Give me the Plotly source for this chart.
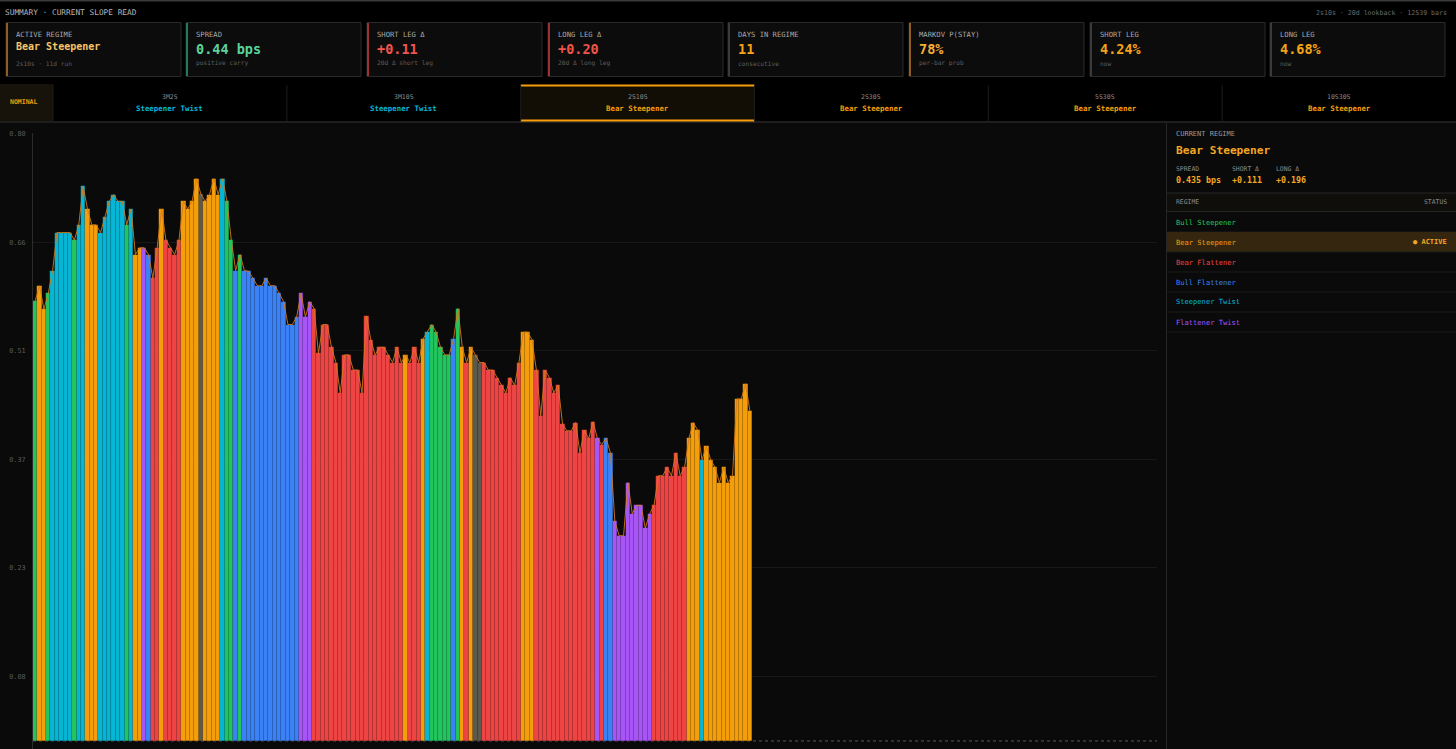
import plotly.graph_objects as go

W, H = 1456, 749

# ---------------- data ----------------
values = [
    0.579, 0.599, 0.568, 0.589, 0.619, 0.669, 0.669, 0.669, 0.669, 0.659,
    0.679, 0.730, 0.700, 0.679, 0.679, 0.669, 0.690, 0.710, 0.719, 0.710,
    0.710, 0.679, 0.700, 0.640, 0.649, 0.649, 0.640, 0.609, 0.649, 0.700,
    0.659, 0.649, 0.640, 0.659, 0.710, 0.700, 0.710, 0.740, 0.720, 0.710,
    0.719, 0.740, 0.719, 0.740, 0.710, 0.659, 0.619, 0.640, 0.619, 0.618,
    0.609, 0.599, 0.599, 0.609, 0.599, 0.599, 0.589, 0.578, 0.548, 0.548,
    0.558, 0.589, 0.558, 0.578, 0.569, 0.510, 0.548, 0.548, 0.518, 0.498,
    0.458, 0.508, 0.508, 0.488, 0.488, 0.458, 0.559, 0.528, 0.508, 0.518,
    0.518, 0.508, 0.498, 0.518, 0.498, 0.508, 0.498, 0.518, 0.498, 0.529,
    0.538, 0.548, 0.538, 0.518, 0.508, 0.508, 0.529, 0.569, 0.518, 0.498,
    0.518, 0.508, 0.498, 0.498, 0.488, 0.488, 0.478, 0.468, 0.458, 0.478,
    0.468, 0.498, 0.538, 0.538, 0.528, 0.488, 0.428, 0.488, 0.478, 0.458,
    0.468, 0.417, 0.408, 0.408, 0.419, 0.379, 0.409, 0.398, 0.420, 0.398,
    0.390, 0.398, 0.379, 0.289, 0.270, 0.270, 0.340, 0.299, 0.310, 0.310,
    0.280, 0.299, 0.310, 0.349, 0.349, 0.360, 0.349, 0.379, 0.349, 0.360,
    0.398, 0.419, 0.409, 0.370, 0.388, 0.370, 0.360, 0.340, 0.360, 0.340,
    0.349, 0.450, 0.450, 0.470, 0.434,
]

# G bull steepener, O bear steepener, R bear flattener, B bull flattener,
# C steepener twist, P flattener twist, N neutral
regimes = list(
    "GOOGCCCCCG"
    "CCOOOCCCCC"
    "CGCOOPBRRO"
    "RRRROOOONO"
    "OOOCGGBGBB"
    "BBBBBBBBBB"
    "BPPPRRRRRR"
    "RRRRRRRRRR"
    "RRRRRORRRO"
    "CGGGGGBGOR"
    "ONNRRRRRRR"
    "RROOORRRRR"
    "RRRRRRRRRP"
    "RBBPPPPPPP"
    "PPRRRRRRRR"
    "OOOCOOOOOO"
    "OOOOO"
)

regime_colors = {
    "G": "#22c55e",
    "O": "#f59e0b",
    "R": "#ef4444",
    "B": "#3b82f6",
    "C": "#06b6d4",
    "P": "#a855f7",
    "N": "#5c594e",
}

y_tick_vals = [0.0848, 0.2276, 0.3704, 0.5132, 0.6560, 0.7988]
y_tick_text = ["0.08", "0.23", "0.37", "0.51", "0.66", "0.80"]

header_title = "SUMMARY · CURRENT SLOPE READ"
header_meta = "2s10s · 20d lookback · 12539 bars"

card_labels = ["ACTIVE REGIME", "SPREAD", "SHORT LEG Δ", "LONG LEG Δ",
               "DAYS IN REGIME", "MARKOV P(STAY)", "SHORT LEG", "LONG LEG"]
card_values = ["Bear Steepener", "0.44 bps", "+0.11", "+0.20",
               "11", "78%", "4.24%", "4.68%"]
card_subs = ["2s10s · 11d run", "positive carry", "20d Δ short leg", "20d Δ long leg",
             "consecutive", "per-bar prob", "now", "now"]

tab_pairs = ["3M2S", "3M10S", "2S10S", "2S30S", "5S30S", "10S30S"]
tab_regimes = ["Steepener Twist", "Steepener Twist", "Bear Steepener",
               "Bear Steepener", "Bear Steepener", "Bear Steepener"]

panel_regime = "Bear Steepener"
panel_stat_labels = ["SPREAD", "SHORT Δ", "LONG Δ"]
panel_stat_values = ["0.435 bps", "+0.111", "+0.196"]

legend_names = ["Bull Steepener", "Bear Steepener", "Bear Flattener",
                "Bull Flattener", "Steepener Twist", "Flattener Twist"]
legend_codes = ["G", "O", "R", "B", "C", "P"]
active_regime = "Bear Steepener"

# ---------------- styling helpers ----------------
FONT = "DejaVu Sans Mono, Liberation Mono, monospace"
name_color = {n: regime_colors[c] for n, c in zip(legend_names, legend_codes)}


def px(x):
    return x / W


def py(y):
    return 1 - y / H


shapes = []
annotations = []


def rect(x0, y0, x1, y1, fill=None, line=None, lw=0, layer="below"):
    shapes.append(dict(type="rect", xref="paper", yref="paper",
                       x0=px(x0), x1=px(x1), y0=py(y1), y1=py(y0),
                       fillcolor=fill or "rgba(0,0,0,0)",
                       line=dict(color=line or "rgba(0,0,0,0)", width=lw),
                       layer=layer))


def hline(x0, x1, y, color, lw=1, dash="solid", layer="below"):
    shapes.append(dict(type="line", xref="paper", yref="paper",
                       x0=px(x0), x1=px(x1), y0=py(y), y1=py(y),
                       line=dict(color=color, width=lw, dash=dash), layer=layer))


def vline(x, y0, y1, color, lw=1, layer="below"):
    shapes.append(dict(type="line", xref="paper", yref="paper",
                       x0=px(x), x1=px(x), y0=py(y0), y1=py(y1),
                       line=dict(color=color, width=lw), layer=layer))


def text(x, y, s, size, color, anchor="left", bold=False):
    shift = {"left": -2, "right": 2, "center": 0}[anchor]
    annotations.append(dict(xref="paper", yref="paper", x=px(x), y=py(y),
                            text=s, showarrow=False, xanchor=anchor, yanchor="middle",
                            xshift=shift,
                            font=dict(family=FONT, size=size, color=color,
                                      weight="bold" if bold else "normal")))


# ---------------- backgrounds ----------------
rect(0, 123, 1166, H, fill="#0a0a0a")
rect(1166, 123, W, H, fill="#0a0a0a")
vline(1166.5, 122, H, "#262626")
hline(0, W, 0.8, "#3a3a3a", lw=1.5)
hline(0, W, 122, "#1e1e1e", lw=2)

# ---------------- header ----------------
text(5, 13, header_title, 7.8, "#b5b5b5")
text(1447, 13, header_meta, 6.6, "#6a6a6a", anchor="right")

card_x = [6, 186, 367, 548, 728, 909, 1090, 1270]
card_w = 175
accent = ["#8d5d22", "#237a5a", "#9a3232", "#9a3232",
          "#3a3a3a", "#8d5d22", "#3a3a3a", "#3a3a3a"]
value_col = ["#f8c46a", "#5bd39a", "#f1554a", "#f1554a",
             "#f5a416", "#f6ad3a", "#f5a416", "#f5a416"]
for i in range(8):
    x0 = card_x[i]
    rect(x0, 22.5, x0 + card_w, 76.5, fill="#0c0c0c", line="#2a2a2a", lw=1)
    vline(x0 + 1, 23, 76, accent[i], lw=2)
    text(x0 + 10, 34.5, card_labels[i], 7.2, "#a8a8a8")
    if i == 0:
        text(x0 + 10, 47, card_values[i], 10, value_col[i], bold=True)
    else:
        text(x0 + 10, 49, card_values[i], 13.5, value_col[i], bold=True)
    text(x0 + 10, 63, card_subs[i], 6.2, "#5e5e5e")

# ---------------- tabs ----------------
rect(0, 84, 53, 121, fill="#17130a")
text(23, 102.5, "NOMINAL", 6.5, "#f59e0b", anchor="center", bold=True)
tab_w = (W - 53) / 6
for i in range(6):
    x0 = 53 + i * tab_w
    if tab_pairs[i] == "2S10S":
        rect(x0, 85, x0 + tab_w, 121, fill="#120d05")
        hline(x0, x0 + tab_w, 85.5, "#f59e0b", lw=2)
        hline(x0, x0 + tab_w, 120.5, "#f59e0b", lw=2)
    vline(x0, 85, 121, "#1c1c1c")
    cx = x0 + tab_w / 2
    text(cx, 96.5, tab_pairs[i], 6.5, "#8a8a8a", anchor="center")
    text(cx, 108.5, tab_regimes[i], 7.4, name_color[tab_regimes[i]], anchor="center", bold=True)

# ---------------- right panel ----------------
text(1176, 134, "CURRENT REGIME", 7, "#9a9a9a")
text(1176, 151, panel_regime, 11.2, "#f5a623", bold=True)
stat_x = [1176, 1232, 1276]
for sx, lab, val in zip(stat_x, panel_stat_labels, panel_stat_values):
    text(sx, 168.5, lab, 6.4, "#8a8a8a")
    text(sx, 179.5, val, 8.3, "#f5a623", bold=True)
rect(1167, 193, W, 211.5, fill="#0f0e0b")
hline(1167, W, 193, "#262626")
hline(1167, W, 211.5, "#262626")
text(1176, 202, "REGIME", 6.4, "#8a8a8a")
text(1447, 202, "STATUS", 6.4, "#8a8a8a", anchor="right")
for k, name in enumerate(legend_names):
    y0 = 212 + 20 * k
    if name == active_regime:
        rect(1167, y0, W, y0 + 20, fill="#35270f")
        text(1447, y0 + 10, "● ACTIVE", 7, "#f5a623", anchor="right", bold=True)
    hline(1167, W, y0 + 20, "#1b1b1b")
    text(1176, y0 + 10, name, 7.1, name_color[name])

# ---------------- chart ----------------
n = len(values)
idx = list(range(n))
bar_colors = [regime_colors[r] for r in regimes]

fig = go.Figure()
fig.add_trace(go.Bar(
    x=idx, y=values, width=1.0,
    marker=dict(color=bar_colors, line=dict(color="rgba(0,0,0,0.12)", width=0.5)),
    hoverinfo="skip", showlegend=False,
))
fig.add_trace(go.Scatter(
    x=idx, y=values, mode="lines",
    line=dict(color="rgba(214,120,24,0.9)", width=1),
    hoverinfo="skip", showlegend=False,
))

x_max = 257.4
shapes.append(dict(type="line", xref="x", yref="y", x0=-0.5, x1=x_max, y0=0, y1=0,
                   line=dict(color="#5a5a5a", width=1, dash="dot"), layer="between"))

fig.update_layout(
    width=W, height=H, autosize=False,
    margin=dict(l=0, r=0, t=0, b=0),
    paper_bgcolor="#000000",
    plot_bgcolor="rgba(0,0,0,0)",
    bargap=0,
    showlegend=False,
    shapes=shapes,
    annotations=annotations,
    xaxis=dict(domain=[px(33), px(1157)], range=[-0.5, x_max],
               showgrid=False, zeroline=False, showticklabels=False,
               showline=False, fixedrange=True),
    yaxis=dict(domain=[0, py(133)], range=[-0.0106, 0.8],
               tickvals=y_tick_vals, ticktext=y_tick_text,
               tickfont=dict(family=FONT, size=6.8, color="#5a5a5a"),
               gridcolor="#181818", gridwidth=1, zeroline=False,
               showline=True, linecolor="#2c2c2c", linewidth=1,
               ticks="", ticklabelstandoff=5, automargin=False, fixedrange=True),
)

fig.write_html(
    "out.html",
    config={"displayModeBar": False},
    post_script="document.body.style.margin='0';document.body.style.background='#000';",
)
